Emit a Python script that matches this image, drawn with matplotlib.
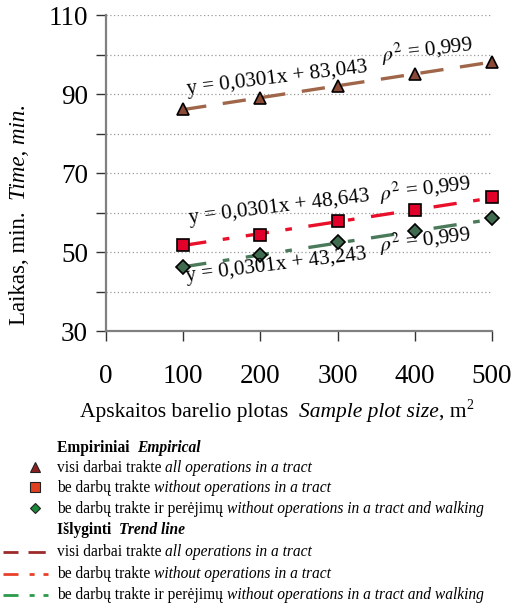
import matplotlib
matplotlib.use("Agg")
import matplotlib.pyplot as plt
from matplotlib.lines import Line2D
from matplotlib.ticker import MultipleLocator
import numpy as np

plt.rcParams["font.family"] = ["Liberation Serif", "DejaVu Serif"]
plt.rcParams["mathtext.fontset"] = "stix"

# Sample plot size, m2
plot_size = [100, 200, 300, 400, 500]
# Empirical time, min.
all_ops = [86.2, 89.0, 92.1, 95.1, 98.1]
no_tract_ops = [51.8, 54.4, 57.8, 60.7, 63.8]
no_tract_walk = [46.3, 49.2, 52.5, 55.3, 58.5]
# Trend lines: y = slope * x + intercept
slope = 0.0301
intercepts = [83.043, 48.643, 43.243]
r2 = [0.999, 0.999, 0.999]

x_ticks = [0, 100, 200, 300, 400, 500]
y_ticks = [30, 50, 70, 90, 110]

W, H = 512, 603
fig = plt.figure(figsize=(W / 100, H / 100), dpi=100)
ax = fig.add_axes([106 / W, 1 - 331 / H, 386 / W, 316 / H])

ax.set_xlim(0, 500)
ax.set_ylim(30, 110)
ax.set_xticks(x_ticks)
ax.set_yticks(y_ticks)
ax.yaxis.set_minor_locator(MultipleLocator(10))
ax.grid(which="both", axis="y", linestyle=(0, (1, 2)), color="#9a9a9a", lw=0.9)
ax.set_axisbelow(True)
for s in ["top", "right"]:
    ax.spines[s].set_visible(False)
for s in ["left", "bottom"]:
    ax.spines[s].set_color("#808080")
    ax.spines[s].set_linewidth(1.6)
ax.tick_params(axis="both", which="both", direction="out", length=7, width=1.0,
               color="#333333", labelsize=19.5, pad=6)
ax.tick_params(axis="x", pad=17)

xs = np.array(plot_size)
styles = [
    dict(color="#a0664a", dashes=(7, 5)),
    dict(color="#e8102a", dashes=(7, 5, 2, 5)),
    dict(color="#4a7a5a", dashes=(7, 5, 2, 5)),
]
for b, st in zip(intercepts, styles):
    ax.plot(xs, slope * xs + b, color=st["color"], lw=2.4, dashes=st["dashes"],
            solid_capstyle="butt", dash_capstyle="butt", zorder=2)

ax.plot(xs, all_ops, ls="none", marker="^", ms=8.5, mfc="#8b4a38", mec="black",
        mew=1.2, zorder=3, clip_on=False)
ax.plot(xs, no_tract_ops, ls="none", marker="s", ms=8.5, mfc="#e0002a", mec="black",
        mew=1.2, zorder=3, clip_on=False)
ax.plot(xs, no_tract_walk, ls="none", marker="D", ms=7, mfc="#3f6b4f", mec="black",
        mew=1.2, zorder=3, clip_on=False)

# Trend line equations
eq_pos = [(105, 89.9), (107.5, 57.4), (103.6, 42.6)]
r2_pos = [(357.5, 98.1), (355, 63.0), (355, 50.0)]
for b, r, (ex, ey), (rx, ry) in zip(intercepts, r2, eq_pos, r2_pos):
    eq = "y = {:.4f}x + {:.3f}".format(slope, b).replace(".", ",")
    ax.text(ex, ey, eq, fontsize=15.2, rotation=7, rotation_mode="anchor",
            ha="left", va="baseline", zorder=4)
    ax.text(rx, ry, r"$\rho^{2}$" + " = {:.3f}".format(r).replace(".", ","),
            fontsize=15.2, rotation=7, rotation_mode="anchor",
            ha="left", va="baseline", zorder=4)

fig.canvas.draw()
renderer = fig.canvas.get_renderer()


def mixed(x_px, y_px, parts, size, bold=False):
    """Draw consecutive text runs (regular / italic) on one baseline in pixel coords."""
    x = x_px
    t = None
    for txt, italic in parts:
        t = fig.text(x / W, 1 - y_px / H, txt, fontsize=size, va="baseline", ha="left",
                     style="italic" if italic else "normal",
                     weight="bold" if bold else "normal")
        x += t.get_window_extent(renderer).width
    return x


# Axis labels
x_end = mixed(80, 417, [("Apskaitos barelio plotas  ", False), ("Sample plot size", True),
                        (", m", False)], 15.5)
fig.text(x_end / W, 1 - 409 / H, "2", fontsize=10, va="baseline", ha="left")

ylab_parts = [("Laikas, min.  ", False), ("Time, min.", True)]
y = 325
for txt, it in ylab_parts:
    t = fig.text(25 / W, 1 - y / H, txt, fontsize=16.5, rotation=90, ha="left",
                 va="baseline", rotation_mode="anchor",
                 style="italic" if it else "normal")
    y -= t.get_window_extent(renderer).height

# Legend
fs = 11.2
tx = 57
mixed(tx, 452, [("Empiriniai  ", False), ("Empirical", True)], fs, bold=True)
legend_marks = [
    ("^", "#8b2020", 7, 472, [("visi darbai trakte ", False), ("all operations in a tract", True)]),
    ("s", "#e04020", 7, 492, [("be darbų trakte ", False), ("without operations in a tract", True)]),
    ("D", "#1a8a3a", 5.5, 513, [("be darbų trakte ir perėjimų ", False),
                                ("without operations in a tract and walking", True)]),
]
for m, c, ms, yb, parts in legend_marks:
    fig.add_artist(Line2D([35 / W], [1 - (yb - 5) / H], marker=m, ms=ms, mfc=c,
                          mec="#222222", mew=0.8, ls="none"))
    mixed(tx, yb, parts, fs)

mixed(tx, 534, [("Išlyginti  ", False), ("Trend line", True)], fs, bold=True)
legend_lines = [
    ("#9c2a2a", (5.4, 3.6, 6.2, 10), 556,
     [("visi darbai trakte ", False), ("all operations in a tract", True)]),
    ("#e8402a", (5.4, 4.0, 1.8, 3.2, 1.8, 10), 578,
     [("be darbų trakte ", False), ("without operations in a tract", True)]),
    ("#2a9a4a", (5.4, 4.0, 1.8, 3.2, 1.8, 10), 599,
     [("be darbų trakte ir perėjimų ", False),
      ("without operations in a tract and walking", True)]),
]
for c, d, yb, parts in legend_lines:
    yl = 1 - (yb - 4) / H
    fig.add_artist(Line2D([3 / W, 48 / W], [yl, yl], color=c, lw=2.0, dashes=d,
                          dash_capstyle="butt"))
    mixed(tx, yb, parts, fs)

fig.savefig("out.png", dpi=100)
